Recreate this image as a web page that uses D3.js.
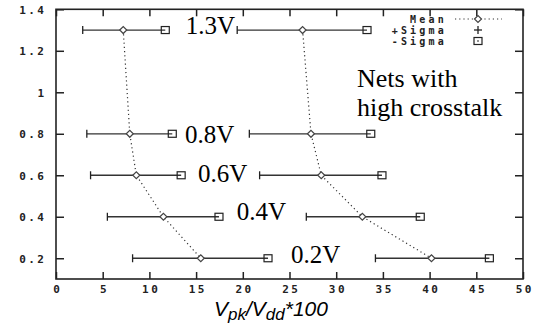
<!DOCTYPE html>
<html><head><meta charset="utf-8">
<script src="https://cdn.jsdelivr.net/npm/d3@7"></script>
<style>
html,body{margin:0;padding:0;background:#fff;}
svg{display:block;}
</style></head>
<body><svg id="c" width="542" height="324"></svg>
<script>
// Data
const levels = [1.3, 0.8, 0.6, 0.4, 0.2];
const lowMean  = [7.2, 7.9, 8.6, 11.5, 15.5];
const lowPlus  = [2.86, 3.3, 3.7, 5.5, 8.2];
const lowMinus = [11.7, 12.45, 13.4, 17.45, 22.7];
const highMean  = [26.4, 27.3, 28.4, 32.8, 40.2];
const highPlus  = [19.4, 20.7, 21.8, 26.8, 34.2];
const highMinus = [33.3, 33.7, 34.9, 39.0, 46.4];
const voltLabels = ["1.3V", "0.8V", "0.6V", "0.4V", "0.2V"];
const xTicks = [0,5,10,15,20,25,30,35,40,45,50];
const yTicks = [0.2,0.4,0.6,0.8,1,1.2,1.4];
const legendLabels = ["Mean", "+Sigma", "-Sigma"];

const svg = d3.select("#c");
const L = 56, R = 523, T = 9.3, B = 279;
const x = d3.scaleLinear().domain([0,50]).range([L,R]);
const y = d3.scaleLinear().domain([0.1,1.4]).range([B,T]);

const monoFont = 'font-family:"DejaVu Sans Mono",monospace;font-size:11px;font-weight:bold;letter-spacing:2.5px;fill:#222';
const legFont = 'font-family:"DejaVu Sans Mono",monospace;font-size:10px;font-weight:bold;letter-spacing:3.2px;fill:#222';

// axes (ticks inward on all sides)
const axB = svg.append("g").attr("transform",`translate(0,${B})`)
  .call(d3.axisBottom(x).tickValues(xTicks).tickSizeInner(-7).tickSizeOuter(0).tickPadding(7).tickFormat(d3.format("d")));
const axT = svg.append("g").attr("transform",`translate(0,${T})`)
  .call(d3.axisTop(x).tickValues(xTicks).tickSizeInner(-7).tickSizeOuter(0).tickFormat(""));
const axL = svg.append("g").attr("transform",`translate(${L},0)`)
  .call(d3.axisLeft(y).tickValues(yTicks).tickSizeInner(-8).tickSizeOuter(0).tickPadding(9.5).tickFormat(d => String(+d.toFixed(1))));
const axR = svg.append("g").attr("transform",`translate(${R},0)`)
  .call(d3.axisRight(y).tickValues(yTicks).tickSizeInner(-8).tickSizeOuter(0).tickFormat(""));
[axB,axT,axL,axR].forEach(a=>{
  a.select(".domain").remove();
  a.selectAll(".tick line").attr("stroke","#222").attr("stroke-width",1.5);
});
axB.selectAll(".tick text").attr("style",monoFont).attr("dx","1.25px").attr("dy","0.6em");
axL.selectAll(".tick text").attr("style",monoFont).attr("dy","0.35em");

svg.append("rect").attr("x",L).attr("y",T).attr("width",R-L).attr("height",B-T)
  .attr("fill","none").attr("stroke","#222").attr("stroke-width",1.6);

function drawSeries(mean, plus, minus){
  const g = svg.append("g");
  const line = d3.line().x((d,i)=>x(mean[i])).y((d,i)=>y(levels[i]));
  g.append("path").datum(levels).attr("d",line).attr("fill","none")
    .attr("stroke","#333").attr("stroke-width",1.2).attr("stroke-dasharray","1.2,3");
  levels.forEach((lv,i)=>{
    const yy = y(lv);
    g.append("line").attr("x1",x(plus[i])).attr("x2",x(minus[i])).attr("y1",yy).attr("y2",yy)
      .attr("stroke","#333").attr("stroke-width",1.3);
    g.append("line").attr("x1",x(plus[i])).attr("x2",x(plus[i])).attr("y1",yy-4).attr("y2",yy+4)
      .attr("stroke","#222").attr("stroke-width",1.3);
    g.append("rect").attr("x",x(minus[i])-4).attr("y",yy-3.5).attr("width",8).attr("height",7)
      .attr("fill","none").attr("stroke","#222").attr("stroke-width",1.2);
    g.append("path").attr("d",`M${x(mean[i])-3.5},${yy}L${x(mean[i])},${yy-3.5}L${x(mean[i])+3.5},${yy}L${x(mean[i])},${yy+3.5}Z`)
      .attr("fill","#fff").attr("stroke","#444").attr("stroke-width",1.2);
  });
}
drawSeries(lowMean, lowPlus, lowMinus);
drawSeries(highMean, highPlus, highMinus);

// voltage labels
const serif = '"Liberation Serif","Times New Roman",serif';
const labelX = [13.9, 13.8, 15.2, 19.35, 25.15];
const labelDy = [4, 9, 6.5, 3.5, 5];
voltLabels.forEach((t,i)=>{
  svg.append("text").attr("x",x(labelX[i])).attr("y",y(levels[i])+labelDy[i])
    .attr("font-family",serif).attr("font-size",25).attr("fill","#000").text(t);
});
svg.append("text").attr("x",357).attr("y",86.5).attr("font-family",serif).attr("font-size",26).text("Nets with");
svg.append("text").attr("x",357).attr("y",115.5).attr("font-family",serif).attr("font-size",26).text("high crosstalk");

// legend
const lg = svg.append("g");
const legY = [19, 30, 41];
legendLabels.forEach((t,i)=>{
  lg.append("text").attr("x",447).attr("y",legY[i]).attr("dy","0.36em").attr("text-anchor","end")
    .attr("style",legFont).text(t);
});
lg.append("line").attr("x1",455).attr("x2",502).attr("y1",legY[0]).attr("y2",legY[0])
  .attr("stroke","#333").attr("stroke-width",1.2).attr("stroke-dasharray","1.2,3");
lg.append("path").attr("d",`M474.5,${legY[0]}L478,${legY[0]-3.5}L481.5,${legY[0]}L478,${legY[0]+3.5}Z`)
  .attr("fill","#fff").attr("stroke","#444").attr("stroke-width",1.2);
lg.append("line").attr("x1",474).attr("x2",482).attr("y1",legY[1]).attr("y2",legY[1]).attr("stroke","#222").attr("stroke-width",1.3);
lg.append("line").attr("x1",478).attr("x2",478).attr("y1",legY[1]-4).attr("y2",legY[1]+4).attr("stroke","#222").attr("stroke-width",1.3);
lg.append("rect").attr("x",474).attr("y",legY[2]-3.5).attr("width",8).attr("height",7)
  .attr("fill","none").attr("stroke","#222").attr("stroke-width",1.2);
lg.append("rect").attr("x",477.3).attr("y",legY[2]-0.7).attr("width",1.4).attr("height",1.4).attr("fill","#222");

// x-axis title
const title = svg.append("text").attr("x",214).attr("y",316)
  .attr("font-family",'"Liberation Sans",Arial,sans-serif').attr("font-style","italic")
  .attr("font-size",21).attr("fill","#000");
title.append("tspan").text("V");
title.append("tspan").attr("font-size",17).attr("dy",4).text("pk");
title.append("tspan").attr("dy",-4).text("/V");
title.append("tspan").attr("font-size",17).attr("dy",4).text("dd");
title.append("tspan").attr("dy",-4).text("*100");
</script></body></html>
